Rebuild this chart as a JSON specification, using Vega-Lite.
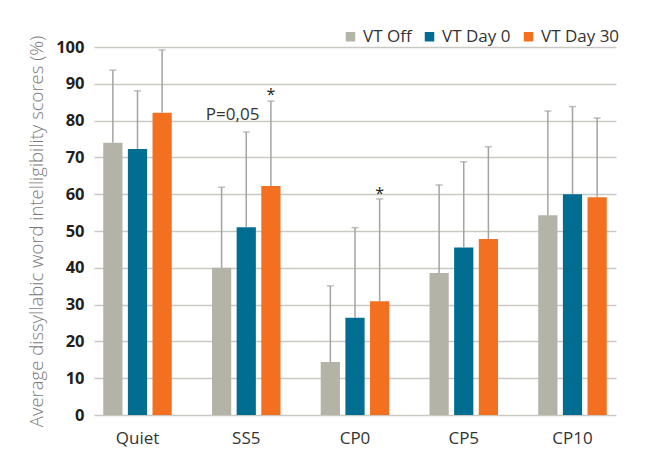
{
  "$schema": "https://vega.github.io/schema/vega-lite/v6.json",
  "autosize": "none",
  "width": 522,
  "height": 368,
  "padding": {"left": 94, "top": 47, "right": 29, "bottom": 58},
  "background": "#ffffff",
  "config": {
    "font": "Open Sans, sans-serif",
    "view": {"stroke": null},
    "axisY": {
      "titleFont": "Open Sans",
      "titleFontSize": 18.5,
      "titleFontWeight": 300,
      "titleColor": "#7a7a7a",
      "titlePadding": 9,
      "labelFont": "Open Sans",
      "labelFontSize": 16.5,
      "labelFontWeight": "bold",
      "labelColor": "#231f20",
      "labelPadding": 10,
      "labelOverlap": false,
      "ticks": false,
      "domain": false,
      "grid": true,
      "gridColor": "#c9c9c1",
      "gridWidth": 1.5
    }
  },
  "datasets": {
    "bars": [
      {"Category": "Quiet", "Series": "VT Off", "value": 74.0, "upper": 93.7},
      {"Category": "Quiet", "Series": "VT Day 0", "value": 72.3, "upper": 88.1},
      {"Category": "Quiet", "Series": "VT Day 30", "value": 82.1, "upper": 99.2},
      {"Category": "SS5", "Series": "VT Off", "value": 40.0, "upper": 61.9},
      {"Category": "SS5", "Series": "VT Day 0", "value": 51.0, "upper": 76.9},
      {"Category": "SS5", "Series": "VT Day 30", "value": 62.2, "upper": 85.3},
      {"Category": "CP0", "Series": "VT Off", "value": 14.4, "upper": 35.1},
      {"Category": "CP0", "Series": "VT Day 0", "value": 26.4, "upper": 50.9},
      {"Category": "CP0", "Series": "VT Day 30", "value": 30.9, "upper": 58.7},
      {"Category": "CP5", "Series": "VT Off", "value": 38.6, "upper": 62.5},
      {"Category": "CP5", "Series": "VT Day 0", "value": 45.5, "upper": 68.8},
      {"Category": "CP5", "Series": "VT Day 30", "value": 47.8, "upper": 72.9},
      {"Category": "CP10", "Series": "VT Off", "value": 54.3, "upper": 82.6},
      {"Category": "CP10", "Series": "VT Day 0", "value": 60.0, "upper": 83.8},
      {"Category": "CP10", "Series": "VT Day 30", "value": 59.2, "upper": 80.7}
    ],
    "notes": [
      {"Category": "SS5", "Series": "VT Off", "y": 81.5, "label": "P=0,05", "kind": "p"},
      {"Category": "SS5", "Series": "VT Day 30", "y": 87.0, "label": "*", "kind": "star"},
      {"Category": "CP0", "Series": "VT Day 30", "y": 60.0, "label": "*", "kind": "star"}
    ]
  },
  "encoding": {
    "x": {
      "field": "Category",
      "type": "nominal",
      "sort": ["Quiet", "SS5", "CP0", "CP5", "CP10"],
      "scale": {"paddingInner": 0.37, "paddingOuter": 0.085},
      "axis": {
        "title": null,
        "labelAngle": 0,
        "ticks": false,
        "domain": false,
        "labelPadding": 15,
        "labelFontSize": 17,
        "labelColor": "#333333",
        "grid": false
      }
    },
    "xOffset": {
      "field": "Series",
      "type": "nominal",
      "sort": ["VT Off", "VT Day 0", "VT Day 30"],
      "scale": {"paddingInner": 0.22, "paddingOuter": 0}
    }
  },
  "layer": [
    {
      "data": {"name": "bars"},
      "mark": {"type": "bar"},
      "encoding": {
        "y": {
          "field": "value",
          "type": "quantitative",
          "scale": {"domain": [0, 100], "nice": false},
          "axis": {"values": [0, 10, 20, 30, 40, 50, 60, 70, 80, 90, 100], "title": "Average dissyllabic word intelligibility scores (%)", "titleFontSize": 18.5, "titleFontWeight": 300, "titleColor": "#7a7a7a"}
        },
        "color": {
          "field": "Series",
          "type": "nominal",
          "sort": ["VT Off", "VT Day 0", "VT Day 30"],
          "scale": {
            "domain": ["VT Off", "VT Day 0", "VT Day 30"],
            "range": ["#b3b3a7", "#006d91", "#f37021"]
          },
          "legend": {
            "title": null,
            "orient": "none",
            "direction": "horizontal",
            "legendX": 248,
            "legendY": -19,
            "padding": 0,
            "symbolType": "square",
            "symbolSize": 90,
            "symbolStrokeWidth": 0,
            "symbolOpacity": 1,
            "labelFont": "Open Sans",
            "labelFontSize": 17,
            "labelColor": "#333333",
            "labelOffset": 4,
            "columnPadding": 9
          }
        }
      }
    },
    {
      "data": {"name": "bars"},
      "mark": {"type": "rule", "color": "#a3a3a3", "strokeWidth": 1.5},
      "encoding": {
        "y": {"field": "value", "type": "quantitative", "axis": {"values": [0, 10, 20, 30, 40, 50, 60, 70, 80, 90, 100], "title": "Average dissyllabic word intelligibility scores (%)", "titleFontSize": 18.5, "titleFontWeight": 300, "titleColor": "#7a7a7a"}},
        "y2": {"field": "upper"}
      }
    },
    {
      "data": {"name": "bars"},
      "mark": {"type": "tick", "color": "#a3a3a3", "thickness": 1.5, "size": 7, "orient": "horizontal"},
      "encoding": {
        "y": {"field": "upper", "type": "quantitative", "axis": {"values": [0, 10, 20, 30, 40, 50, 60, 70, 80, 90, 100], "title": "Average dissyllabic word intelligibility scores (%)", "titleFontSize": 18.5, "titleFontWeight": 300, "titleColor": "#7a7a7a"}}
      }
    },
    {
      "data": {"name": "notes"},
      "transform": [{"filter": "datum.kind == 'p'"}],
      "mark": {"type": "text", "font": "Open Sans", "fontSize": 17, "color": "#333333", "align": "center", "baseline": "middle", "dx": 11},
      "encoding": {
        "y": {"field": "y", "type": "quantitative", "axis": {"values": [0, 10, 20, 30, 40, 50, 60, 70, 80, 90, 100], "title": "Average dissyllabic word intelligibility scores (%)", "titleFontSize": 18.5, "titleFontWeight": 300, "titleColor": "#7a7a7a"}},
        "text": {"field": "label"}
      }
    },
    {
      "data": {"name": "notes"},
      "transform": [{"filter": "datum.kind == 'star'"}],
      "mark": {"type": "text", "font": "Open Sans", "fontSize": 16, "color": "#222222", "align": "center", "baseline": "middle"},
      "encoding": {
        "y": {"field": "y", "type": "quantitative", "axis": {"values": [0, 10, 20, 30, 40, 50, 60, 70, 80, 90, 100], "title": "Average dissyllabic word intelligibility scores (%)", "titleFontSize": 18.5, "titleFontWeight": 300, "titleColor": "#7a7a7a"}},
        "text": {"field": "label"}
      }
    }
  ]
}
